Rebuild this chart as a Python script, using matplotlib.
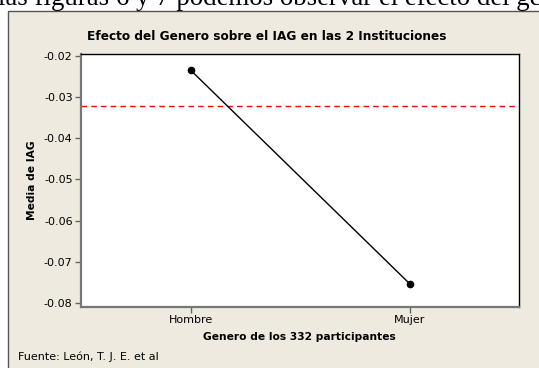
import matplotlib
matplotlib.use("Agg")
import matplotlib.pyplot as plt
from matplotlib.patches import Rectangle

categories = ["Hombre", "Mujer"]
means = [-0.0234, -0.0753]
ref_mean = -0.0321
yticks = [-0.02, -0.03, -0.04, -0.05, -0.06, -0.07, -0.08]

W, H = 539, 368
fig = plt.figure(figsize=(W / 100, H / 100), dpi=100, facecolor="white")

def fx(px):
    return px / W

def fy(py):
    return 1 - py / H

FONT = ["DejaVu Sans"]
beige = "#EEEAE0"

# beige panel with left/top border
fig.patches.append(Rectangle((fx(8), -0.1), 1.2, fy(11) + 0.1, transform=fig.transFigure,
                             facecolor=beige, edgecolor="#555555", linewidth=1.0, zorder=-5))

# cropped running text from the document above
fig.text(fx(-2), fy(5), "las figuras 6 y 7 podemos observar el efecto del ge",
         family="Liberation Serif", fontsize=19.4, va="baseline", ha="left", color="black",
         zorder=-4)

ax = fig.add_axes([fx(81), fy(307), fx(438), (307 - 54) / H])
ax.set_zorder(2)
ax.set_facecolor("white")
x = list(range(1, len(categories) + 1))
ax.axhline(ref_mean, color="red", linestyle=(0, (4, 3)), linewidth=1.0, zorder=1)
ax.plot(x, means, color="black", linewidth=1.0, marker="o", markersize=4.5, zorder=3)

ax.set_xlim(0.5, 2.5)
ax.set_ylim(-0.081, -0.0195)
ax.set_xticks(x)
ax.set_xticklabels(categories, family=FONT, fontsize=8)
ax.set_yticks(yticks)
ax.set_yticklabels([f"{v:.2f}" for v in yticks], family=FONT, fontsize=8)
ax.tick_params(axis="both", length=4, width=1, color="#666666", pad=2)

for s in ["left", "bottom"]:
    ax.spines[s].set_color("#777777")
    ax.spines[s].set_linewidth(1.6)
for s in ["top", "right"]:
    ax.spines[s].set_color("black")
    ax.spines[s].set_linewidth(1.0)

fig.text(fx(267), fy(37), "Efecto del Genero sobre el IAG en las 2 Instituciones",
         family=FONT, fontsize=8.7, fontweight="bold", ha="center", va="center")
fig.text(fx(299), fy(337), "Genero de los 332 participantes",
         family=FONT, fontsize=7.7, fontweight="bold", ha="center", va="center")
fig.text(fx(32), fy(180), "Media de IAG", family=FONT, fontsize=7.7, fontweight="bold",
         ha="center", va="center", rotation=90)
fig.text(fx(18), fy(357), "Fuente: León, T. J. E. et al", family=FONT, fontsize=8,
         ha="left", va="center")

fig.savefig("out.png", dpi=100, facecolor=fig.get_facecolor())
